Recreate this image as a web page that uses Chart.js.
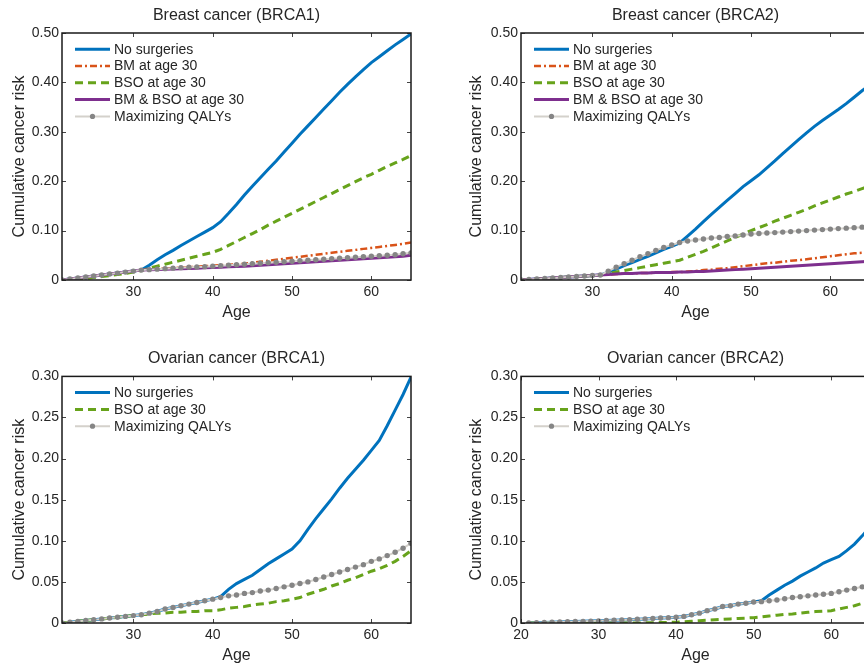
<!DOCTYPE html>
<html>
<head>
<meta charset="utf-8">
<script src="https://cdn.jsdelivr.net/npm/chart.js@4.4.1/dist/chart.umd.min.js"></script>
<style>
  html, body { margin: 0; padding: 0; width: 864px; height: 664px; overflow: hidden; background: #fff; }
  canvas { position: absolute; }
</style>
</head>
<body>
<canvas id="breast1" width="432" height="330" style="left:0;top:0"></canvas>
<canvas id="breast2" width="459" height="330" style="left:432px;top:0"></canvas>
<canvas id="ovarian1" width="432" height="334" style="left:0;top:330px"></canvas>
<canvas id="ovarian2" width="459" height="334" style="left:432px;top:330px"></canvas>
<script>
// Age grid shared by every curve
const ages = [21, 22, 23, 24, 25, 26, 27, 28, 29, 30, 31, 32, 33, 34, 35, 36, 37, 38, 39, 40,
  41, 42, 43, 44, 45, 46, 47, 48, 49, 50, 51, 52, 53, 54, 55, 56, 57, 58, 59, 60, 61, 62, 63, 64, 65];

// Breast cancer, BRCA1
const b1None = [0, .002, .004, .006, .008, .010, .012, .014, .016, .018, .020,
  .030, .041, .051, .060, .070, .079, .088, .097, .106, .118,
  .135, .153, .172, .190, .207, .224, .241, .259, .277, .295,
  .312, .329, .346, .363, .380, .396, .411, .426, .440, .452,
  .464, .476, .487, .498];
const b1BM = [0, .002, .004, .006, .008, .010, .012, .014, .016, .018, .020,
  .021, .022, .023, .024, .025, .026, .027, .028, .029, .030,
  .031, .032, .033, .035, .037, .039, .041, .043, .045, .047,
  .049, .051, .053, .055, .057, .059, .061, .063, .065, .067,
  .069, .071, .073, .076];
const b1BSO = [0, .001, .002, .003, .005, .007, .009, .011, .013, .016, .019,
  .024, .028, .032, .036, .040, .044, .048, .052, .056, .062,
  .070, .078, .086, .094, .102, .111, .119, .127, .135, .143,
  .151, .159, .167, .175, .183, .191, .199, .207, .214, .222,
  .230, .237, .244, .252];
const b1Both = [0, .002, .004, .006, .008, .010, .012, .014, .016, .018, .020,
  .0205, .021, .022, .0225, .023, .0235, .024, .025, .0255, .026,
  .027, .0275, .028, .029, .030, .031, .032, .033, .034, .035,
  .036, .037, .038, .039, .040, .041, .042, .043, .044, .045,
  .046, .047, .048, .050];
const b1Qaly = [0, .002, .004, .006, .008, .010, .012, .014, .016, .018, .020,
  .021, .022, .023, .024, .025, .026, .0265, .027, .028, .029,
  .030, .031, .032, .033, .034, .035, .036, .037, .038, .039,
  .040, .041, .042, .043, .044, .045, .046, .047, .048, .049,
  .050, .051, .053, .055];

// Breast cancer, BRCA2
const b2None = [0, .001, .002, .003, .004, .005, .006, .007, .008, .009, .010,
  .016, .022, .029, .035, .042, .048, .055, .062, .068, .075,
  .089, .103, .118, .133, .147, .161, .175, .189, .201, .213,
  .227, .241, .256, .270, .284, .298, .311, .323, .334, .345,
  .357, .370, .383, .395];
const b2BM = [0, .001, .002, .003, .004, .005, .006, .007, .008, .009, .010,
  .011, .012, .013, .013, .014, .014, .015, .015, .016, .016,
  .017, .018, .020, .021, .023, .024, .026, .028, .030, .032,
  .034, .035, .037, .039, .040, .042, .044, .046, .048, .050,
  .052, .054, .055, .057];
const b2BSO = [0, .001, .002, .003, .004, .005, .006, .007, .008, .009, .010,
  .013, .016, .019, .022, .025, .028, .031, .034, .037, .040,
  .046, .052, .058, .065, .072, .079, .086, .093, .100, .106,
  .112, .119, .125, .131, .137, .143, .150, .156, .162, .168,
  .174, .179, .185, .190];
const b2Both = [0, .001, .002, .003, .004, .005, .006, .007, .008, .009, .010,
  .011, .012, .013, .013, .014, .014, .015, .015, .015, .016,
  .016, .017, .017, .018, .019, .020, .021, .022, .023, .024,
  .025, .026, .027, .028, .029, .030, .031, .032, .033, .034,
  .035, .036, .037, .038];
const b2Qaly = [0, .001, .002, .003, .004, .005, .006, .007, .008, .009, .010,
  .018, .026, .033, .040, .047, .053, .060, .066, .071, .076,
  .079, .081, .083, .085, .086, .088, .089, .091, .093, .094,
  .095, .096, .097, .098, .099, .100, .101, .102, .103, .104,
  .105, .106, .107, .108];

// Ovarian cancer, BRCA1
const o1None = [0, .001, .002, .003, .004, .005, .006, .007, .008, .009, .010,
  .012, .014, .017, .019, .021, .023, .025, .027, .029, .032,
  .041, .048, .053, .058, .065, .072, .078, .084, .090, .100,
  .114, .127, .139, .151, .164, .176, .187, .198, .210, .222,
  .240, .259, .278, .299];
const o1BSO = [0, .001, .002, .003, .004, .005, .006, .007, .008, .009, .010,
  .011, .012, .012, .013, .013, .014, .014, .015, .015, .016,
  .018, .019, .020, .022, .023, .024, .026, .027, .029, .031,
  .035, .038, .041, .045, .048, .052, .055, .059, .063, .066,
  .070, .075, .081, .088];
const o1Qaly = [0, .001, .002, .003, .004, .005, .006, .007, .008, .009, .010,
  .012, .014, .017, .019, .021, .023, .025, .027, .029, .031,
  .033, .034, .036, .037, .039, .040, .042, .044, .046, .048,
  .050, .053, .056, .059, .062, .065, .068, .071, .075, .078,
  .082, .086, .091, .097];

// Ovarian cancer, BRCA2
const o2None = [0, .0003, .0006, .0009, .0012, .0015, .0018, .002, .0023, .0026, .003,
  .0033, .0036, .004, .0045, .005, .0055, .006, .0065, .007, .008,
  .010, .012, .015, .017, .020, .021, .023, .024, .0255, .027,
  .034, .040, .046, .051, .057, .062, .067, .073, .077, .081,
  .088, .096, .106, .117];
const o2BSO = [0, 0, 0, 0, 0, 0, 0, 0, 0, 0, 0,
  0, 0, 0, 0, .0002, .0004, .0006, .0008, .001, .0016,
  .0022, .0028, .0034, .004, .0045, .005, .0055, .006, .0065, .0075,
  .0085, .0095, .0105, .011, .012, .013, .014, .0145, .015, .017,
  .019, .021, .024, .027];
const o2Qaly = [0, .0003, .0006, .0009, .0012, .0015, .0018, .002, .0023, .0026, .003,
  .0033, .0036, .004, .0045, .005, .0055, .006, .0065, .007, .008,
  .010, .012, .015, .017, .020, .021, .023, .024, .0255, .026,
  .027, .028, .0295, .031, .032, .033, .034, .035, .036, .038,
  .040, .042, .044, .046];

// Tick values
const breastYTicks = [0, 0.1, 0.2, 0.3, 0.4, 0.5];
const ovarianYTicks = [0, 0.05, 0.1, 0.15, 0.2, 0.25, 0.3];
const ageTicks = [30, 40, 50, 60];
const ageTicksFrom20 = [20, 30, 40, 50, 60];

Chart.defaults.font.family = '"Liberation Sans", Arial, Helvetica, sans-serif';
Chart.defaults.color = '#262626';

const seriesStyle = {
  'No surgeries':       { color: '#0072BD', width: 3,   dash: [],           order: 5 },
  'BM at age 30':       { color: '#D95319', width: 2.5, dash: [7, 3, 2, 3], order: 4 },
  'BSO at age 30':      { color: '#67A31B', width: 3,   dash: [8, 5],       order: 3 },
  'BM & BSO at age 30': { color: '#7E2F8E', width: 3,   dash: [],           order: 2 },
  'Maximizing QALYs':   { color: '#D4D1CB', width: 2,   dash: [],           order: 1, marker: '#858585' }
};

// MATLAB-style frame, inward ticks on all sides and a legend in the top-left corner
const framePlugin = {
  id: 'frame',
  afterDatasetsDraw(chart) {
    const { ctx, chartArea: a, scales: { x, y } } = chart;
    ctx.save();
    ctx.strokeStyle = '#444';
    ctx.lineWidth = 1;
    ctx.beginPath();
    x.ticks.forEach(t => {
      const px = Math.round(x.getPixelForValue(t.value)) + 0.5;
      ctx.moveTo(px, a.bottom); ctx.lineTo(px, a.bottom - 4);
      ctx.moveTo(px, a.top); ctx.lineTo(px, a.top + 4);
    });
    y.ticks.forEach(t => {
      const py = Math.round(y.getPixelForValue(t.value)) + 0.5;
      ctx.moveTo(a.left, py); ctx.lineTo(a.left + 4, py);
      ctx.moveTo(a.right, py); ctx.lineTo(a.right - 4, py);
    });
    ctx.stroke();

    ctx.strokeStyle = '#1a1a1a';
    ctx.lineWidth = 1.5;
    ctx.strokeRect(a.left, a.top, a.right - a.left, a.bottom - a.top);

    ctx.font = '14px "Liberation Sans", Arial, sans-serif';
    ctx.textBaseline = 'middle';
    ctx.fillStyle = '#262626';
    chart.data.datasets.forEach((ds, i) => {
      const s = seriesStyle[ds.label];
      const yy = a.top + 16.2 + i * 16.8;
      const x0 = a.left + 13, x1 = a.left + 48;
      ctx.strokeStyle = s.color;
      ctx.lineWidth = s.width;
      ctx.setLineDash(s.dash);
      ctx.beginPath();
      ctx.moveTo(x0, yy); ctx.lineTo(x1, yy);
      ctx.stroke();
      ctx.setLineDash([]);
      if (s.marker) {
        ctx.fillStyle = s.marker;
        ctx.beginPath();
        ctx.arc((x0 + x1) / 2, yy, 2.6, 0, Math.PI * 2);
        ctx.fill();
        ctx.fillStyle = '#262626';
      }
      ctx.fillText(ds.label, a.left + 52, yy + 0.5);
    });
    ctx.restore();
  }
};

function makeChart(id, cfg) {
  const datasets = cfg.series.map(([label, values]) => {
    const s = seriesStyle[label];
    return {
      label,
      data: ages.map((a, i) => ({ x: a, y: values[i] })),
      borderColor: s.color,
      borderWidth: s.width,
      borderDash: s.dash,
      order: s.order,
      tension: 0,
      pointRadius: s.marker ? 2.7 : 0,
      pointBackgroundColor: s.marker,
      pointBorderWidth: 0
    };
  });

  new Chart(document.getElementById(id), {
    type: 'line',
    data: { datasets },
    plugins: [framePlugin],
    options: {
      responsive: false,
      animation: false,
      layout: { padding: { left: 0, right: 21, top: 0, bottom: 0 } },
      plugins: {
        legend: { display: false },
        tooltip: { enabled: false },
        title: {
          display: true,
          text: cfg.title,
          fullSize: false,
          color: '#262626',
          font: { size: 16, weight: 'normal' },
          padding: { top: cfg.titleTop, bottom: 7.8 }
        }
      },
      scales: {
        x: {
          type: 'linear',
          min: cfg.xMin,
          max: 65,
          grid: { display: false, drawTicks: false },
          border: { display: false },
          afterBuildTicks: s => { s.ticks = cfg.xTicks.map(v => ({ value: v })); },
          afterFit: s => { s.height = cfg.xAxisHeight; },
          ticks: { font: { size: 14 }, color: '#262626', padding: 4, maxRotation: 0, autoSkip: false },
          title: {
            display: true, text: 'Age', color: '#262626',
            font: { size: 16 }, padding: { top: 0, bottom: cfg.xTitleBottom }
          }
        },
        y: {
          min: 0,
          max: cfg.yMax,
          grid: { display: false, drawTicks: false },
          border: { display: false },
          afterBuildTicks: s => { s.ticks = cfg.yTicks.map(v => ({ value: v })); },
          afterFit: s => { s.width = cfg.yAxisWidth; },
          ticks: {
            font: { size: 14 }, color: '#262626', padding: 3, autoSkip: false,
            callback: v => (v === 0 ? '0' : v.toFixed(2))
          },
          title: {
            display: true, text: 'Cumulative cancer risk', color: '#262626',
            font: { size: 16 }, padding: { top: cfg.yTitleTop, bottom: 0 }
          }
        }
      }
    }
  });
}

makeChart('breast1', {
  title: 'Breast cancer (BRCA1)',
  series: [['No surgeries', b1None], ['BM at age 30', b1BM], ['BSO at age 30', b1BSO],
           ['BM & BSO at age 30', b1Both], ['Maximizing QALYs', b1Qaly]],
  yMax: 0.5, yTicks: breastYTicks, xMin: 21, xTicks: ageTicks,
  titleTop: 6, xAxisHeight: 50, xTitleBottom: 7.6, yAxisWidth: 62, yTitleTop: 9.6
});

makeChart('breast2', {
  title: 'Breast cancer (BRCA2)',
  series: [['No surgeries', b2None], ['BM at age 30', b2BM], ['BSO at age 30', b2BSO],
           ['BM & BSO at age 30', b2Both], ['Maximizing QALYs', b2Qaly]],
  yMax: 0.5, yTicks: breastYTicks, xMin: 21, xTicks: ageTicks,
  titleTop: 6, xAxisHeight: 50, xTitleBottom: 7.6, yAxisWidth: 89, yTitleTop: 34.6
});

makeChart('ovarian1', {
  title: 'Ovarian cancer (BRCA1)',
  series: [['No surgeries', o1None], ['BSO at age 30', o1BSO], ['Maximizing QALYs', o1Qaly]],
  yMax: 0.3, yTicks: ovarianYTicks, xMin: 21, xTicks: ageTicks,
  titleTop: 19.4, xAxisHeight: 41, xTitleBottom: -1.4, yAxisWidth: 62, yTitleTop: 9.6
});

makeChart('ovarian2', {
  title: 'Ovarian cancer (BRCA2)',
  series: [['No surgeries', o2None], ['BSO at age 30', o2BSO], ['Maximizing QALYs', o2Qaly]],
  yMax: 0.3, yTicks: ovarianYTicks, xMin: 20, xTicks: ageTicksFrom20,
  titleTop: 19.4, xAxisHeight: 41, xTitleBottom: -1.4, yAxisWidth: 89, yTitleTop: 34.6
});
</script>
</body>
</html>
